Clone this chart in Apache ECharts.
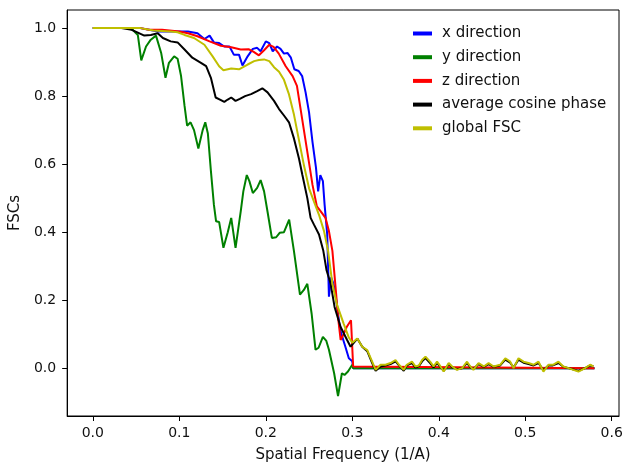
<!DOCTYPE html>
<html>
<head>
<meta charset="utf-8">
<script src="https://cdn.jsdelivr.net/npm/echarts@6/dist/echarts.min.js"></script>
<style>html,body{margin:0;padding:0;background:#fff;}#c{width:626px;height:468px;}</style>
</head>
<body>
<div id="c"></div>
<script>
const seriesNames = ['x direction', 'y direction', 'z direction', 'average cosine phase', 'global FSC'];
const xTickValues = [0.0, 0.1, 0.2, 0.3, 0.4, 0.5, 0.6];
const yTickValues = [0.0, 0.2, 0.4, 0.6, 0.8, 1.0];

const blueX = [0, 0.03, 0.055, 0.065, 0.075, 0.09, 0.10, 0.11, 0.121, 0.129, 0.135, 0.140, 0.146, 0.152, 0.158, 0.163, 0.169, 0.173, 0.179, 0.185, 0.190, 0.194, 0.200, 0.204, 0.208, 0.213, 0.217, 0.221, 0.225, 0.229, 0.233, 0.238, 0.242, 0.246, 0.250, 0.254, 0.258, 0.2605, 0.263, 0.266, 0.268, 0.271, 0.273, 0.2755, 0.278, 0.280, 0.286, 0.292, 0.296, 0.300, 0.301, 0.58];
const blueY = [1.0, 1.0, 1.0, 0.995, 0.99, 0.99, 0.99, 0.99, 0.985, 0.968, 0.978, 0.958, 0.956, 0.946, 0.946, 0.922, 0.922, 0.89, 0.917, 0.939, 0.942, 0.932, 0.961, 0.956, 0.932, 0.946, 0.939, 0.925, 0.927, 0.913, 0.879, 0.874, 0.859, 0.811, 0.752, 0.665, 0.59, 0.52, 0.568, 0.55, 0.48, 0.393, 0.21, 0.267, 0.25, 0.228, 0.112, 0.063, 0.029, 0.02, 0.0, 0.0];

const greenX = [0, 0.04, 0.046, 0.052, 0.056, 0.0615, 0.067, 0.073, 0.079, 0.084, 0.088, 0.094, 0.098, 0.102, 0.106, 0.109, 0.113, 0.117, 0.122, 0.127, 0.130, 0.133, 0.1365, 0.140, 0.1425, 0.146, 0.151, 0.156, 0.160, 0.165, 0.171, 0.174, 0.178, 0.181, 0.185, 0.190, 0.194, 0.198, 0.202, 0.207, 0.212, 0.216, 0.221, 0.227, 0.2325, 0.2395, 0.244, 0.248, 0.253, 0.2575, 0.261, 0.266, 0.270, 0.273, 0.279, 0.2835, 0.288, 0.291, 0.295, 0.300, 0.301, 0.58];
const greenY = [1.0, 1.0, 0.995, 0.98, 0.905, 0.946, 0.966, 0.978, 0.927, 0.854, 0.898, 0.917, 0.91, 0.859, 0.772, 0.713, 0.723, 0.70, 0.646, 0.70, 0.723, 0.69, 0.58, 0.48, 0.432, 0.43, 0.354, 0.40, 0.442, 0.354, 0.461, 0.52, 0.568, 0.55, 0.515, 0.53, 0.553, 0.52, 0.46, 0.383, 0.385, 0.398, 0.40, 0.437, 0.345, 0.216, 0.23, 0.248, 0.16, 0.054, 0.06, 0.092, 0.08, 0.054, -0.015, -0.082, -0.015, -0.02, -0.01, 0.01, 0.0, 0.0];

const redX = [0, 0.055, 0.065, 0.08, 0.10, 0.11, 0.121, 0.135, 0.148, 0.160, 0.171, 0.180, 0.186, 0.192, 0.198, 0.204, 0.209, 0.215, 0.223, 0.231, 0.236, 0.242, 0.248, 0.254, 0.259, 0.2635, 0.269, 0.273, 0.277, 0.281, 0.2835, 0.2865, 0.290, 0.2935, 0.2985, 0.301, 0.3015, 0.58];
const redY = [1.0, 1.0, 0.995, 0.995, 0.99, 0.985, 0.976, 0.961, 0.948, 0.944, 0.937, 0.938, 0.93, 0.92, 0.935, 0.951, 0.945, 0.925, 0.888, 0.859, 0.83, 0.733, 0.636, 0.539, 0.476, 0.461, 0.442, 0.403, 0.345, 0.228, 0.15, 0.083, 0.10, 0.121, 0.141, 0.005, 0.0, 0.0];

const blackX = [0, 0.033, 0.045, 0.052, 0.0595, 0.067, 0.075, 0.081, 0.090, 0.098, 0.106, 0.115, 0.125, 0.131, 0.1365, 0.142, 0.147, 0.152, 0.156, 0.160, 0.165, 0.170, 0.176, 0.183, 0.190, 0.196, 0.202, 0.2095, 0.2153, 0.221, 0.2268, 0.2326, 0.2384, 0.2423, 0.248, 0.2518, 0.2557, 0.2615, 0.2665, 0.2703, 0.275, 0.2795, 0.2865, 0.294, 0.298, 0.3058];
const blackY = [1.0, 1.0, 0.995, 0.987, 0.978, 0.98, 0.985, 0.971, 0.961, 0.958, 0.937, 0.913, 0.898, 0.888, 0.854, 0.796, 0.79, 0.783, 0.79, 0.796, 0.786, 0.792, 0.80, 0.806, 0.815, 0.823, 0.811, 0.786, 0.762, 0.743, 0.723, 0.675, 0.616, 0.568, 0.5, 0.442, 0.422, 0.393, 0.345, 0.287, 0.248, 0.18, 0.121, 0.083, 0.063, 0.087];

const yellowX = [0, 0.055, 0.07, 0.09, 0.098, 0.106, 0.117, 0.129, 0.1385, 0.146, 0.151, 0.160, 0.169, 0.179, 0.1865, 0.192, 0.198, 0.204, 0.2095, 0.2153, 0.221, 0.2268, 0.2326, 0.2384, 0.2442, 0.250, 0.2557, 0.2615, 0.2673, 0.272, 0.277, 0.282, 0.290, 0.296, 0.300, 0.3058];
const yellowY = [1.0, 1.0, 0.993, 0.99, 0.988, 0.98, 0.971, 0.951, 0.917, 0.888, 0.876, 0.881, 0.879, 0.893, 0.903, 0.906, 0.908, 0.903, 0.885, 0.872, 0.848, 0.805, 0.745, 0.67, 0.595, 0.529, 0.490, 0.451, 0.403, 0.345, 0.248, 0.189, 0.131, 0.09, 0.075, 0.087];

const noiseX = [0.3115, 0.3173, 0.323, 0.327, 0.3327, 0.3384, 0.3442, 0.35, 0.354, 0.3595,
  0.363, 0.369, 0.373, 0.377, 0.3807, 0.3846, 0.390, 0.394, 0.398, 0.402,
  0.4057, 0.4115, 0.4155, 0.421, 0.427, 0.4327, 0.4365, 0.440, 0.446, 0.452,
  0.4576, 0.4634, 0.471, 0.4769, 0.4826, 0.4865, 0.4922, 0.498, 0.5038, 0.5096,
  0.5153, 0.521, 0.5268, 0.532, 0.5384, 0.544, 0.550, 0.5557, 0.5615, 0.5634,
  0.5692, 0.575, 0.5788];
const yellowNoise = [0.063, 0.053, 0.019, -0.005, 0.01, 0.01, 0.015, 0.024, 0.01, -0.005,
  0.01, 0.019, 0.005, 0.008, 0.024, 0.034, 0.019, 0.005, 0.019, 0.005,
  -0.01, 0.015, 0.005, -0.005, 0.0, 0.019, 0.005, -0.005, 0.015, 0.005,
  0.015, 0.005, 0.01, 0.029, 0.019, 0.0, 0.029, 0.019, 0.015, 0.01,
  0.019, -0.01, 0.01, 0.01, 0.019, 0.005, 0.0, -0.005, -0.01, -0.015,
  0.0, 0.01, 0.005];
const blackNoise = [0.063, 0.05, 0.015, -0.008, 0.005, 0.008, 0.012, 0.02, 0.008, -0.008,
  0.008, 0.015, 0.002, 0.006, 0.02, 0.03, 0.015, 0.002, 0.015, 0.003,
  -0.008, 0.012, 0.003, -0.003, 0.0, 0.015, 0.003, -0.003, 0.012, 0.004,
  0.012, 0.004, 0.008, 0.025, 0.016, 0.002, 0.025, 0.016, 0.012, 0.008,
  0.015, -0.006, 0.008, 0.008, 0.015, 0.004, 0.0, -0.004, -0.008, -0.012,
  0.0, 0.008, 0.006];

const colors = ['#0000ff', '#008000', '#ff0000', '#000000', '#bfbf00'];

function pairs(xs, ys) { return xs.map((x, i) => [x, ys[i]]); }
const seriesData = [
  pairs(blueX, blueY),
  pairs(greenX, greenY),
  pairs(redX, redY),
  pairs(blackX, blackY).concat(pairs(noiseX, blackNoise)),
  pairs(yellowX, yellowY).concat(pairs(noiseX, yellowNoise))
];

const font = 'DejaVu Sans';
function fmt(list) {
  return function (v) {
    for (const t of list) { if (Math.abs(v - t) < 1e-6) return t.toFixed(1); }
    return '';
  };
}

const chart = echarts.init(document.getElementById('c'), null, {renderer: 'canvas'});
chart.setOption({
  animation: false,
  backgroundColor: '#fff',
  color: colors,
  grid: {left: 66, right: 7, top: 10, bottom: 48, show: true, borderColor: '#000', borderWidth: 1, backgroundColor: 'transparent'},
  legend: {
    orient: 'vertical', left: 413, top: 26, padding: 0, icon: 'rect', itemWidth: 19, itemHeight: 4, itemGap: 8.7,
    data: seriesNames,
    textStyle: {fontFamily: font, fontSize: 15, color: '#111', padding: [0, 0, 0, 5]}
  },
  xAxis: {
    type: 'value', min: -0.0297, max: 0.6084,
    name: 'Spatial Frequency (1/A)', nameLocation: 'middle', nameGap: 32,
    nameTextStyle: {fontFamily: font, fontSize: 15, color: '#111'},
    axisLine: {show: true, onZero: false, lineStyle: {color: '#000', width: 1}},
    axisTick: {show: true, length: 5, lineStyle: {color: '#000'}},
    axisLabel: {fontFamily: font, fontSize: 14, color: '#111', margin: 10, formatter: fmt(xTickValues), showMinLabel: false, showMaxLabel: false},
    splitLine: {show: false}
  },
  yAxis: {
    type: 'value', min: -0.1407, max: 1.0533,
    name: 'FSCs', nameLocation: 'middle', nameGap: 42, nameRotate: 90,
    nameTextStyle: {fontFamily: font, fontSize: 15, color: '#111'},
    axisLine: {show: true, onZero: false, lineStyle: {color: '#000', width: 1}},
    axisTick: {show: true, length: 5, lineStyle: {color: '#000'}},
    axisLabel: {fontFamily: font, fontSize: 14, color: '#111', margin: 11, formatter: fmt(yTickValues), showMinLabel: false, showMaxLabel: false},
    splitLine: {show: false}
  },
  series: seriesNames.map((n, i) => ({
    name: n, type: 'line', data: seriesData[i], showSymbol: false, symbol: 'none',
    lineStyle: {width: 2, color: colors[i]}, itemStyle: {color: colors[i]}, z: 2 + i
  }))
});
</script>
</body>
</html>
